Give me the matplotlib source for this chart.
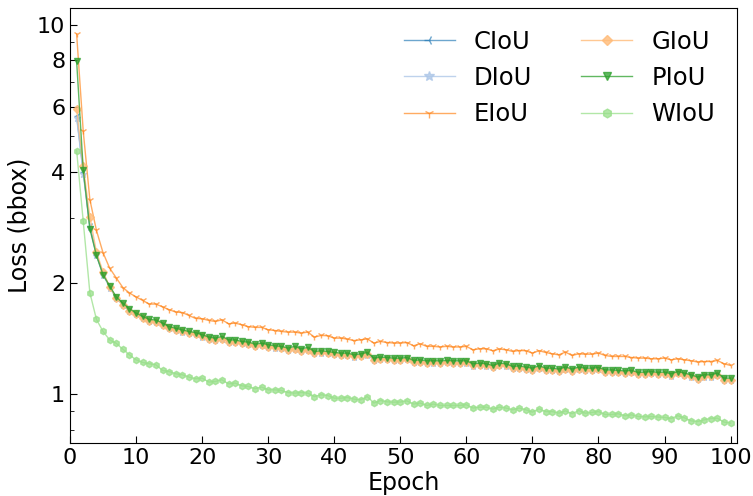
import matplotlib
matplotlib.use("Agg")
import matplotlib.pyplot as plt
from matplotlib.ticker import FixedLocator, FixedFormatter, NullFormatter

epochs = list(range(1, 101))

ciou = [5.67, 4.00, 2.85, 2.38, 2.11, 1.95, 1.82, 1.745, 1.685, 1.645,
        1.605, 1.578, 1.566, 1.538, 1.507, 1.492, 1.477, 1.462, 1.452, 1.432,
        1.412, 1.402, 1.41, 1.386, 1.387, 1.372, 1.366, 1.351, 1.357, 1.345,
        1.336, 1.331, 1.318, 1.328, 1.312, 1.318, 1.291, 1.296, 1.29, 1.282,
        1.277, 1.276, 1.264, 1.27, 1.279, 1.238, 1.245, 1.242, 1.237, 1.237,
        1.242, 1.22, 1.224, 1.217, 1.218, 1.216, 1.219, 1.217, 1.216, 1.217,
        1.195, 1.2, 1.195, 1.182, 1.198, 1.195, 1.175, 1.18, 1.17, 1.164,
        1.178, 1.164, 1.163, 1.157, 1.17, 1.157, 1.169, 1.163, 1.163, 1.167,
        1.151, 1.15, 1.147, 1.143, 1.146, 1.133, 1.135, 1.138, 1.133, 1.134,
        1.123, 1.137, 1.128, 1.116, 1.101, 1.116, 1.116, 1.126, 1.094, 1.093]

diou = [5.60, 3.95, 2.83, 2.37, 2.10, 1.94, 1.815, 1.74, 1.68, 1.64,
        1.60, 1.574, 1.562, 1.534, 1.504, 1.489, 1.474, 1.459, 1.449, 1.429,
        1.409, 1.399, 1.408, 1.384, 1.384, 1.369, 1.364, 1.349, 1.354, 1.342,
        1.334, 1.329, 1.316, 1.325, 1.309, 1.316, 1.289, 1.293, 1.287, 1.279,
        1.275, 1.273, 1.261, 1.267, 1.277, 1.235, 1.242, 1.239, 1.235, 1.234,
        1.239, 1.217, 1.221, 1.214, 1.215, 1.213, 1.217, 1.214, 1.213, 1.215,
        1.192, 1.197, 1.192, 1.179, 1.196, 1.192, 1.172, 1.177, 1.167, 1.161,
        1.176, 1.161, 1.16, 1.154, 1.167, 1.154, 1.167, 1.16, 1.161, 1.164,
        1.148, 1.147, 1.144, 1.141, 1.143, 1.13, 1.132, 1.135, 1.13, 1.132,
        1.12, 1.135, 1.125, 1.113, 1.098, 1.113, 1.113, 1.124, 1.091, 1.09]

eiou = [9.43, 5.14, 3.36, 2.77, 2.41, 2.19, 2.06, 1.94, 1.875, 1.83,
        1.79, 1.75, 1.75, 1.72, 1.69, 1.665, 1.66, 1.63, 1.60, 1.597,
        1.58, 1.57, 1.586, 1.548, 1.554, 1.538, 1.52, 1.513, 1.513, 1.491,
        1.484, 1.475, 1.469, 1.469, 1.46, 1.469, 1.424, 1.439, 1.436, 1.415,
        1.415, 1.406, 1.394, 1.40, 1.409, 1.372, 1.386, 1.377, 1.372, 1.372,
        1.377, 1.349, 1.366, 1.344, 1.344, 1.339, 1.344, 1.339, 1.339, 1.344,
        1.316, 1.324, 1.324, 1.308, 1.322, 1.316, 1.302, 1.31, 1.308, 1.289,
        1.308, 1.294, 1.283, 1.275, 1.297, 1.27, 1.283, 1.28, 1.28, 1.289,
        1.27, 1.262, 1.262, 1.262, 1.254, 1.249, 1.249, 1.244, 1.244, 1.249,
        1.236, 1.244, 1.236, 1.229, 1.219, 1.223, 1.223, 1.231, 1.206, 1.193]

giou = [5.91, 4.13, 3.02, 2.42, 2.14, 1.95, 1.82, 1.74, 1.68, 1.64,
        1.60, 1.575, 1.565, 1.535, 1.505, 1.49, 1.475, 1.46, 1.45, 1.43,
        1.41, 1.40, 1.41, 1.385, 1.385, 1.37, 1.365, 1.35, 1.355, 1.343,
        1.335, 1.33, 1.317, 1.326, 1.31, 1.318, 1.29, 1.294, 1.288, 1.28,
        1.276, 1.274, 1.262, 1.268, 1.278, 1.236, 1.243, 1.24, 1.236, 1.235,
        1.24, 1.218, 1.222, 1.215, 1.216, 1.214, 1.218, 1.215, 1.214, 1.216,
        1.193, 1.198, 1.193, 1.18, 1.197, 1.193, 1.173, 1.178, 1.168, 1.162,
        1.177, 1.162, 1.161, 1.155, 1.168, 1.155, 1.168, 1.161, 1.162, 1.165,
        1.149, 1.148, 1.145, 1.142, 1.144, 1.131, 1.133, 1.136, 1.131, 1.133,
        1.121, 1.136, 1.126, 1.114, 1.099, 1.114, 1.114, 1.125, 1.092, 1.091]

piou = [7.95, 4.05, 2.80, 2.37, 2.10, 1.96, 1.83, 1.76, 1.70, 1.655,
        1.62, 1.59, 1.585, 1.555, 1.52, 1.505, 1.49, 1.475, 1.465, 1.445,
        1.425, 1.415, 1.43, 1.40, 1.40, 1.386, 1.381, 1.363, 1.372, 1.358,
        1.349, 1.344, 1.33, 1.344, 1.324, 1.335, 1.302, 1.308, 1.302, 1.294,
        1.289, 1.289, 1.275, 1.283, 1.294, 1.249, 1.257, 1.254, 1.249, 1.249,
        1.254, 1.231, 1.236, 1.229, 1.229, 1.229, 1.231, 1.229, 1.229, 1.229,
        1.206, 1.211, 1.206, 1.193, 1.211, 1.206, 1.186, 1.191, 1.181, 1.174,
        1.191, 1.174, 1.174, 1.167, 1.182, 1.167, 1.181, 1.174, 1.174, 1.178,
        1.161, 1.161, 1.157, 1.154, 1.157, 1.143, 1.145, 1.149, 1.143, 1.145,
        1.133, 1.149, 1.138, 1.126, 1.110, 1.126, 1.126, 1.138, 1.103, 1.103]

wiou = [4.56, 2.93, 1.88, 1.59, 1.475, 1.40, 1.37, 1.32, 1.275, 1.236,
        1.216, 1.206, 1.198, 1.157, 1.149, 1.133, 1.126, 1.110, 1.098, 1.103,
        1.076, 1.080, 1.091, 1.064, 1.069, 1.051, 1.047, 1.032, 1.043, 1.025,
        1.025, 1.021, 1.008, 1.004, 1.008, 1.004, 0.983, 0.994, 0.989, 0.973,
        0.973, 0.977, 0.967, 0.963, 0.983, 0.944, 0.959, 0.951, 0.949, 0.950,
        0.957, 0.938, 0.944, 0.930, 0.938, 0.930, 0.930, 0.930, 0.930, 0.934,
        0.915, 0.920, 0.920, 0.909, 0.920, 0.915, 0.905, 0.915, 0.905, 0.892,
        0.911, 0.895, 0.895, 0.886, 0.899, 0.883, 0.901, 0.886, 0.890, 0.895,
        0.879, 0.879, 0.883, 0.872, 0.877, 0.868, 0.866, 0.868, 0.865, 0.863,
        0.857, 0.872, 0.861, 0.845, 0.841, 0.850, 0.857, 0.859, 0.838, 0.833]

series = [
    ("CIoU", ciou, "#1f77b4", "3", 0.65, 5),
    ("DIoU", diou, "#aec7e8", "*", 0.8, 5),
    ("EIoU", eiou, "#ff7f0e", "1", 0.65, 5),
    ("GIoU", giou, "#ffbb78", "D", 0.8, 4),
    ("PIoU", piou, "#2ca02c", "v", 0.75, 4.5),
    ("WIoU", wiou, "#98df8a", "h", 0.75, 4.5),
]

y_major = [1, 2, 4, 6, 8, 10]
y_minor = [0.8, 0.9, 3, 5, 7, 9]
x_ticks = [0, 10, 20, 30, 40, 50, 60, 70, 80, 90, 100]

fig = plt.figure(figsize=(7.53, 4.96), dpi=100)
ax = fig.add_axes([0.093, 0.107, 0.886, 0.877])

for name, vals, color, marker, alpha, ms in series:
    ax.plot(epochs, vals, color=color, marker=marker, markersize=ms,
            linewidth=1.0, alpha=alpha, label=name)

ax.set_yscale("log")
ax.set_ylim(0.736, 11.1)
ax.set_xlim(0, 101)
ax.yaxis.set_major_locator(FixedLocator(y_major))
ax.yaxis.set_major_formatter(FixedFormatter([str(v) for v in y_major]))
ax.yaxis.set_minor_locator(FixedLocator(y_minor))
ax.yaxis.set_minor_formatter(NullFormatter())
ax.set_xticks(x_ticks)
ax.tick_params(axis="both", which="major", direction="in", labelsize=16, length=5)
ax.tick_params(axis="both", which="minor", direction="in", length=3)

ax.set_xlabel("Epoch", fontsize=17, labelpad=2)
ax.set_ylabel("Loss (bbox)", fontsize=17, labelpad=4)

ax.legend(ncol=2, frameon=False, fontsize=17.5, loc="upper right",
          bbox_to_anchor=(1.0, 1.0), markerscale=1.4,
          handlelength=2.1, handletextpad=0.8, columnspacing=2.0,
          labelspacing=0.5)

fig.savefig("out.png", dpi=100)
